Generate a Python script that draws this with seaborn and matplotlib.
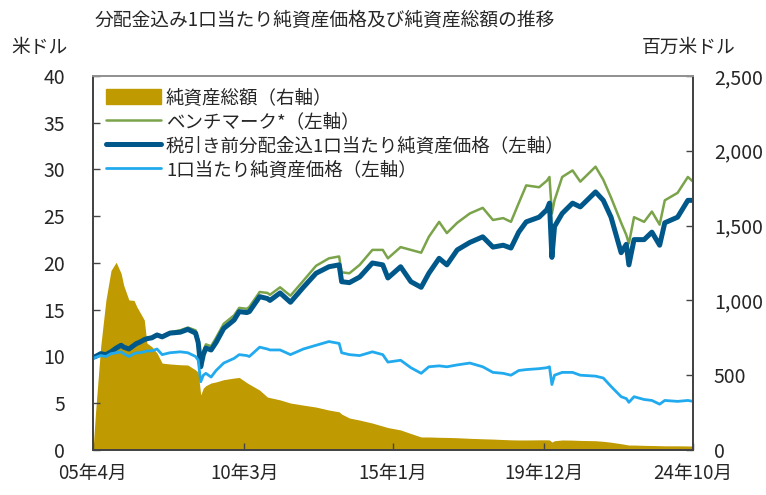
import pandas as pd
import numpy as np
import matplotlib.pyplot as plt
import matplotlib.patches as mpatches
import seaborn as sns

# ── Palette ──────────────────────────────────────────────────────────────────
GOLD   = "#BF9A00"
GREEN  = "#7AA34A"
NAVY   = "#00588A"
SKY    = "#22AAEE"
AXIS   = "#444444"

sns.set_theme(style="white")
plt.rcParams["font.family"] = ["Noto Sans CJK JP", "DejaVu Sans"]

# ── Data ─────────────────────────────────────────────────────────────────────
months = ["2005-04", "2005-05", "2005-07", "2005-09", "2005-11", "2006-01", "2006-03", "2006-04",
          "2006-06", "2006-08", "2006-09", "2006-10", "2006-12", "2007-01", "2007-03", "2007-05",
          "2007-07", "2007-10", "2008-02", "2008-05", "2008-08", "2008-09", "2008-10", "2008-11",
          "2008-12", "2009-02", "2009-04", "2009-07", "2009-11", "2010-01", "2010-04", "2010-05",
          "2010-09", "2010-12", "2011-01", "2011-05", "2011-09", "2012-02", "2012-07", "2012-12",
          "2013-04", "2013-05", "2013-08", "2013-12", "2014-05", "2014-09", "2014-11", "2015-04",
          "2015-08", "2015-12", "2016-03", "2016-07", "2016-10", "2017-02", "2017-07", "2017-12",
          "2018-04", "2018-08", "2018-11", "2019-02", "2019-05", "2019-10", "2020-01", "2020-02",
          "2020-03", "2020-04", "2020-07", "2020-11", "2021-02", "2021-08", "2021-11", "2022-02",
          "2022-06", "2022-08", "2022-09", "2022-11", "2023-03", "2023-06", "2023-09", "2023-11",
          "2024-04", "2024-08", "2024-10"]

nav_dist = [9.9, 10.0, 10.3, 10.2, 10.5, 10.9, 11.2, 11.0, 10.8, 11.2, 11.4, 11.5, 11.8, 11.9, 12.0, 12.3,
            12.1, 12.5, 12.6, 12.9, 12.5, 11.5, 8.9, 10.2, 10.9, 10.7, 11.5, 13.0, 13.9, 14.8, 14.7, 14.8,
            16.4, 16.2, 16.0, 16.8, 15.8, 17.4, 18.9, 19.6, 19.8, 18.0, 17.9, 18.5, 20.0, 19.8, 18.4, 19.6,
            18.0, 17.4, 18.9, 20.5, 19.8, 21.4, 22.2, 22.8, 21.7, 21.9, 21.6, 23.3, 24.4, 24.9, 25.7, 26.4,
            20.6, 23.9, 25.3, 26.4, 26.0, 27.6, 26.7, 24.9, 21.1, 22.0, 19.8, 22.5, 22.5, 23.3, 21.9, 24.3,
            24.9, 26.7, 26.7]

benchmark = [9.9, 10.0, 10.3, 10.3, 10.6, 11.0, 11.3, 11.1, 10.9, 11.3, 11.5, 11.6, 11.9, 12.0, 12.1, 12.4,
             12.2, 12.6, 12.8, 13.1, 12.8, 11.8, 9.3, 10.6, 11.3, 11.1, 12.0, 13.5, 14.4, 15.2, 15.1, 15.3,
             16.9, 16.8, 16.6, 17.4, 16.5, 18.1, 19.7, 20.5, 20.7, 19.0, 18.9, 19.8, 21.4, 21.4, 20.5, 21.7,
             21.4, 21.1, 22.8, 24.4, 23.2, 24.3, 25.3, 25.9, 24.6, 24.8, 24.4, 26.4, 28.3, 28.1, 28.8, 29.2,
             25.3, 26.7, 29.2, 29.9, 28.7, 30.3, 28.9, 27.0, 24.3, 23.0, 22.1, 24.9, 24.4, 25.5, 24.1, 26.7,
             27.5, 29.2, 28.7]

nav = [9.8, 9.9, 10.1, 10.0, 10.3, 10.4, 10.5, 10.3, 10.0, 10.3, 10.4, 10.4, 10.5, 10.6, 10.6, 10.8,
       10.2, 10.4, 10.5, 10.4, 10.0, 9.6, 7.3, 8.0, 8.2, 7.8, 8.5, 9.3, 9.8, 10.2, 10.1, 10.0,
       11.0, 10.8, 10.7, 10.7, 10.2, 10.8, 11.2, 11.6, 11.4, 10.4, 10.2, 10.1, 10.5, 10.2, 9.4, 9.6,
       8.8, 8.2, 8.9, 9.0, 8.9, 9.1, 9.3, 8.9, 8.3, 8.2, 8.0, 8.5, 8.6, 8.7, 8.8, 8.9,
       7.0, 8.0, 8.3, 8.3, 8.0, 7.9, 7.7, 6.8, 5.7, 5.5, 5.1, 5.7, 5.4, 5.3, 4.9, 5.3,
       5.2, 5.3, 5.2]

net_assets = [0, 250, 690, 1000, 1200, 1255, 1180, 1100, 1003, 1000, 960, 930, 869, 715, 690, 648,
              581, 575, 570, 568, 535, 520, 368, 414, 430, 448, 455, 470, 481, 485, 450, 440,
              400, 354, 350, 335, 314, 300, 287, 267, 255, 240, 214, 200, 180, 160, 150, 134,
              110, 87, 87, 85, 84, 82, 78, 75, 73, 70, 68, 67, 67, 68, 68, 67,
              53, 62, 67, 66, 64, 62, 58, 52, 42, 36, 33, 33, 31, 30, 29, 28,
              28, 27, 27]

tick_dates  = ["2005-04", "2010-03", "2015-01", "2019-12", "2024-10"]
tick_labels = ["05年4月", "10年3月", "15年1月", "19年12月", "24年10月"]

df = pd.DataFrame({
    "date":      pd.to_datetime(months),
    "nav_dist":  nav_dist,
    "benchmark": benchmark,
    "nav":       nav,
    "assets":    net_assets,
})

# ── Figure ───────────────────────────────────────────────────────────────────
fig = plt.figure(figsize=(7.66, 4.95), dpi=100)
ax = fig.add_axes([0.1214, 0.0909, 0.7833, 0.7556])
ax2 = ax.twinx()
ax.set_zorder(ax2.get_zorder() + 1)
ax.patch.set_visible(False)

# net assets (right axis) as filled area
ax2.fill_between(df["date"], 0, df["assets"], color=GOLD, lw=0)
ax2.set_ylim(0, 2500)
ax2.set_yticks(np.arange(0, 2501, 500))
ax2.yaxis.set_major_formatter(plt.FuncFormatter(lambda v, _: f"{int(v):,}"))

# lines (left axis)
sns.lineplot(data=df, x="date", y="benchmark", ax=ax, color=GREEN, lw=1.8)
sns.lineplot(data=df, x="date", y="nav_dist", ax=ax, color=NAVY, lw=3.6)
sns.lineplot(data=df, x="date", y="nav", ax=ax, color=SKY, lw=2.0)

ax.set_ylim(0, 40)
ax.set_yticks(np.arange(0, 41, 5))
ax.set_xlim(pd.Timestamp("2005-04-01"), pd.Timestamp("2024-10-01"))
ax.set_xticks(pd.to_datetime(tick_dates))
ax.set_xticklabels(tick_labels)
ax.set_xlabel("")
ax.set_ylabel("")

for a in (ax, ax2):
    for s in a.spines.values():
        s.set_color(AXIS)
        s.set_linewidth(1.3)
ax.spines["top"].set_color("#999999")

ax.tick_params(axis="y", direction="in", length=5, width=1, color=AXIS,
               labelsize=14, pad=20, left=True)
ax.tick_params(axis="x", direction="in", length=5, width=1, color=AXIS,
               labelsize=13.5, pad=9, bottom=True)
ax2.tick_params(axis="y", direction="in", length=5, width=1, color=AXIS,
                labelsize=14, pad=15, right=True)

# ── Legend ───────────────────────────────────────────────────────────────────
handles = [
    mpatches.Patch(color=GOLD, label="純資産総額（右軸）"),
    plt.Line2D([], [], color=GREEN, lw=1.8, label="ベンチマーク*（左軸）"),
    plt.Line2D([], [], color=NAVY, lw=3.6, label="税引き前分配金込1口当たり純資産価格（左軸）"),
    plt.Line2D([], [], color=SKY, lw=2.0, label="1口当たり純資産価格（左軸）"),
]
ax.legend(handles=handles, loc="upper left", frameon=False, fontsize=13.3,
          handlelength=3.0, handleheight=0.8, labelspacing=0.32,
          handletextpad=0.25, borderaxespad=0.3, bbox_to_anchor=(0.0, 1.0))

# ── Titles ───────────────────────────────────────────────────────────────────
fig.text(0.124, 0.958, "分配金込み1口当たり純資産価格及び純資産総額の推移",
         fontsize=13.5, ha="left", va="center")
fig.text(0.015, 0.905, "米ドル", fontsize=13.5, ha="left", va="center")
fig.text(0.96, 0.905, "百万米ドル", fontsize=13.5, ha="right", va="center")

plt.savefig("out.png", dpi=100)
